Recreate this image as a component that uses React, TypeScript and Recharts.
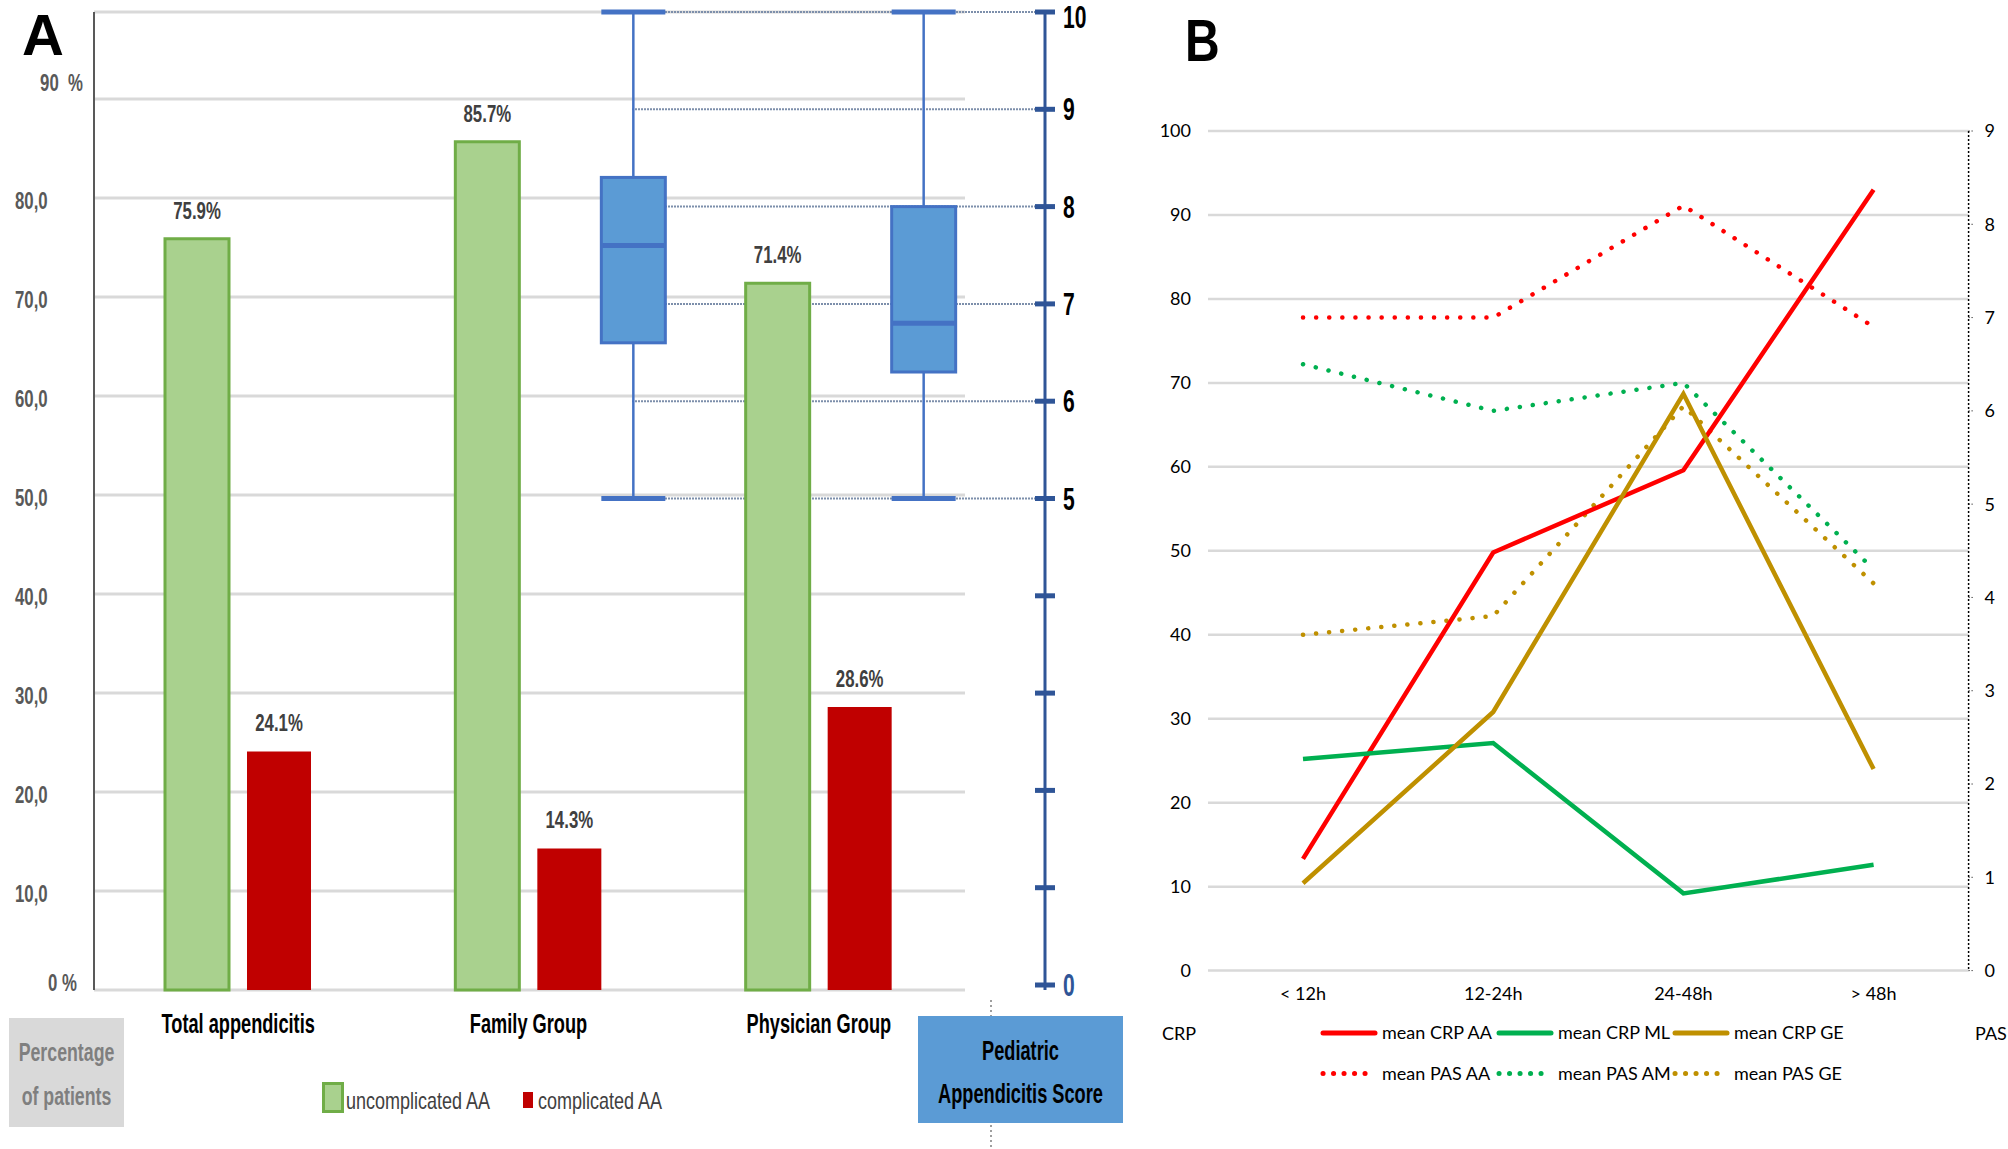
import React from "react";
import {
  ComposedChart,
  LineChart,
  Bar,
  Line,
  XAxis,
  YAxis,
  CartesianGrid,
  LabelList,
  Legend,
} from "recharts";

// ---- Panel A: outcome by group + Pediatric Appendicitis Score box plots
const groups = ["Total appendicitis", "Family Group", "Physician Group"];
const uncomplicatedPct = [75.9, 85.7, 71.4];
const complicatedPct = [24.1, 14.3, 28.6];
const pasMin = [null, 5, 5];
const pasQ1 = [null, 6.6, 6.3];
const pasMedian = [null, 7.6, 6.8];
const pasQ3 = [null, 8.3, 8.0];
const pasMax = [null, 10, 10];
const pctTicks = [0, 10, 20, 30, 40, 50, 60, 70, 80, 90];
const pasTicks = [0, 1, 2, 3, 4, 5, 6, 7, 8, 9, 10];
const pasTickLabels = [0, 5, 6, 7, 8, 9, 10];
const pasGuideValues = [5, 6, 7, 8, 9, 10];
const barLegendOrder = ["uncomplicated AA", "complicated AA"];

// ---- Panel B: CRP and PAS by time since onset
const intervals = ["< 12h", "12-24h", "24-48h", "> 48h"];
const crpAA = [13.3, 49.8, 59.6, 93.0];
const crpML = [25.2, 27.1, 9.2, 12.6];
const crpGE = [10.4, 30.8, 68.7, 24.0];
const pasAA = [7.0, 7.0, 8.2, 6.9];
const pasAM = [6.5, 6.0, 6.3, 4.3];
const pasGE = [3.6, 3.8, 6.05, 4.15];
const crpTicks = [0, 10, 20, 30, 40, 50, 60, 70, 80, 90, 100];
const pasTicksB = [0, 1, 2, 3, 4, 5, 6, 7, 8, 9];

const FONT_A = "'Liberation Sans', Arial, sans-serif";
const FONT_B = "Lato, 'Open Sans', sans-serif";
const GREEN = "#a9d18e";
const GREEN_EDGE = "#70ad47";
const DARK_RED = "#c00000";
const BOX_FILL = "#5b9bd5";
const BOX_EDGE = "#4472c4";
const PAS_BLUE = "#2f5597";
const BAR_GAP = 18;

const RED = "#ff0000";
const LGREEN = "#00b050";
const GOLD = "#bf9000";

const crpSeries = [
  { key: "crpAA", name: "mean CRP AA", color: RED, values: crpAA },
  { key: "crpML", name: "mean CRP ML", color: LGREEN, values: crpML },
  { key: "crpGE", name: "mean CRP GE", color: GOLD, values: crpGE },
];
const pasSeries = [
  { key: "pasAA", name: "mean PAS AA", color: RED, values: pasAA },
  { key: "pasAM", name: "mean PAS AM", color: LGREEN, values: pasAM },
  { key: "pasGE", name: "mean PAS GE", color: GOLD, values: pasGE },
];
const lineLegendOrder = [...crpSeries, ...pasSeries].map((s) => s.name);

const groupRows = groups.map((g, i) => ({
  group: g,
  uncomplicated: uncomplicatedPct[i],
  complicated: complicatedPct[i],
  box: pasQ1[i] == null ? null : [pasQ1[i], pasQ3[i]],
  min: pasMin[i],
  q1: pasQ1[i],
  median: pasMedian[i],
  q3: pasQ3[i],
  max: pasMax[i],
}));

const timeRows = intervals.map((t, i) => {
  const row: any = { interval: t };
  [...crpSeries, ...pasSeries].forEach((s) => (row[s.key] = s.values[i]));
  return row;
});

// condensed text, like the squeezed labels of the original figure
function Squeezed({ x, y, sx = 0.7, anchor = "middle", size = 24, weight = 700, fill = "#000", family = FONT_A, children }: any) {
  return (
    <text
      transform={`translate(${x},${y}) scale(${sx},1)`}
      textAnchor={anchor}
      fontSize={size}
      fontWeight={weight}
      fill={fill}
      fontFamily={family}
    >
      {children}
    </text>
  );
}

const PctTick = ({ x, y, payload }: any) => {
  const v = payload.value;
  if (v === 90)
    return <Squeezed x={x - 11} y={y - 8} anchor="end" fill="#595959">{"90\u00a0\u00a0%"}</Squeezed>;
  if (v === 0)
    return <Squeezed x={x - 17} y={y + 1} anchor="end" fill="#595959">0 %</Squeezed>;
  return (
    <Squeezed x={x - 79} y={y + 11} anchor="start" fill="#595959">
      {v.toFixed(1).replace(".", ",")}
    </Squeezed>
  );
};

const PasTick = ({ x, y, payload }: any) => {
  const v = payload.value;
  return (
    <g>
      <line x1={x - 10} x2={x + 10} y1={y} y2={y} stroke={PAS_BLUE} strokeWidth={5} />
      {pasTickLabels.includes(v) && (
        <Squeezed
          x={x + 18}
          y={y + (v === 10 ? 16 : 11)}
          anchor="start"
          size={31}
          sx={0.68}
          fill={v === 0 ? PAS_BLUE : "#000"}
        >
          {v}
        </Squeezed>
      )}
    </g>
  );
};

const GroupTick = ({ x, y, payload }: any) => (
  <Squeezed x={x - 41} y={y + 43} size={28} sx={0.65}>
    {payload.value}
  </Squeezed>
);

const pctLabel = (p: any) => {
  const vb = p.viewBox ?? p;
  const x = (p.x ?? vb.x) + (p.width ?? vb.width) / 2;
  const y = p.y ?? vb.y;
  return (
    <Squeezed x={x} y={y - 20} fill="#404040">
      {`${Number(p.value).toFixed(1)}%`}
    </Squeezed>
  );
};

const BoxShape = (props: any) => {
  const { x, y, width, height, payload } = props;
  if (!payload || payload.q1 == null || !(height > 0)) return null;
  const perUnit = height / (payload.q3 - payload.q1);
  const at = (v: number) => y + (payload.q3 - v) * perUnit;
  const left = x - BAR_GAP; // the box sits flush against the complicated bar
  const cx = left + width / 2;
  return (
    <g>
      <line x1={cx} x2={cx} y1={at(payload.max)} y2={y} stroke={BOX_EDGE} strokeWidth={2.5} />
      <line x1={cx} x2={cx} y1={y + height} y2={at(payload.min)} stroke={BOX_EDGE} strokeWidth={2.5} />
      <line x1={left} x2={left + width} y1={at(payload.max)} y2={at(payload.max)} stroke={BOX_EDGE} strokeWidth={5} />
      <line x1={left} x2={left + width} y1={at(payload.min)} y2={at(payload.min)} stroke={BOX_EDGE} strokeWidth={5} />
      <rect x={left} y={y} width={width} height={height} fill={BOX_FILL} stroke={BOX_EDGE} strokeWidth={3} />
      <line x1={left} x2={left + width} y1={at(payload.median)} y2={at(payload.median)} stroke={BOX_EDGE} strokeWidth={5} />
    </g>
  );
};

const BarLegend = ({ payload }: any) => {
  const items = (payload ?? [])
    .filter((e: any) => barLegendOrder.includes(e.value))
    .sort((a: any, b: any) => barLegendOrder.indexOf(a.value) - barLegendOrder.indexOf(b.value));
  return (
    <svg width={360} height={40} style={{ display: "block" }}>
      {items.map((e: any, i: number) => {
        const left = i * 201;
        return (
          <g key={e.value}>
            {i === 0 ? (
              <rect x={left + 5.5} y={5.5} width={19} height={28} fill={e.color} stroke={GREEN_EDGE} strokeWidth={3} />
            ) : (
              <rect x={left + 4} y={14} width={10} height={16} fill={e.color} />
            )}
            <Squeezed x={left + (i === 0 ? 28 : 19)} y={30.5} anchor="start" weight={400} sx={0.75} fill="#404040">
              {e.value}
            </Squeezed>
          </g>
        );
      })}
    </svg>
  );
};

const LineLegend = ({ payload }: any) => {
  const items = (payload ?? [])
    .filter((e: any) => lineLegendOrder.includes(e.value))
    .sort((a: any, b: any) => lineLegendOrder.indexOf(a.value) - lineLegendOrder.indexOf(b.value));
  return (
    <svg width={540} height={80} style={{ display: "block" }}>
      {items.map((e: any, i: number) => {
        const lx = (i % 3) * 176;
        const ly = 20 + Math.floor(i / 3) * 40.5;
        const dotted = i >= 3;
        return (
          <g key={e.value}>
            <line
              x1={lx + 3}
              x2={lx + 55}
              y1={ly}
              y2={ly}
              stroke={e.color}
              strokeWidth={5}
              strokeLinecap="round"
              strokeDasharray={dotted ? "0.1 10.4" : undefined}
            />
            <text x={lx + 62} y={ly + 6} fontSize={18} fontFamily={FONT_B} fill="#000">
              {e.value}
            </text>
          </g>
        );
      })}
    </svg>
  );
};

function PanelA() {
  return (
    <ComposedChart
      width={1130}
      height={1149}
      data={groupRows}
      margin={{ top: 12, right: 0, bottom: 0, left: 0 }}
      barGap={BAR_GAP}
    >
      <CartesianGrid yAxisId="pct" vertical={false} x={94} width={871} stroke="#d9d9d9" strokeWidth={3} />
      <CartesianGrid
        yAxisId="pas"
        vertical={false}
        x={632}
        width={413}
        horizontalValues={pasGuideValues}
        stroke="#7d8fab"
        strokeDasharray="2 1"
        strokeWidth={2}
      />
      <XAxis
        dataKey="group"
        height={159}
        padding={{ left: 40, right: 40 }}
        axisLine={false}
        tickLine={false}
        tickSize={0}
        tickMargin={0}
        interval={0}
        tick={<GroupTick />}
      />
      <YAxis
        yAxisId="pct"
        width={94}
        domain={[0, 98.8]}
        ticks={pctTicks}
        interval={0}
        axisLine={{ stroke: "#595959", strokeWidth: 2 }}
        tickLine={false}
        tickSize={0}
        tickMargin={0}
        tick={<PctTick />}
      />
      <YAxis
        yAxisId="pas"
        orientation="right"
        width={85}
        domain={[0, 10]}
        ticks={pasTicks}
        interval={0}
        padding={{ top: 0, bottom: 5 }}
        axisLine={{ stroke: PAS_BLUE, strokeWidth: 3 }}
        tickLine={false}
        tickSize={0}
        tickMargin={0}
        tick={<PasTick />}
      />
      <Legend
        layout="horizontal"
        verticalAlign="middle"
        align="center"
        wrapperStyle={{ left: 318, top: 1078, width: 360, height: 40 }}
        content={<BarLegend />}
      />
      <Bar
        yAxisId="pct"
        dataKey="uncomplicated"
        name="uncomplicated AA"
        barSize={64}
        fill={GREEN}
        stroke={GREEN_EDGE}
        strokeWidth={3}
        isAnimationActive={false}
      >
        <LabelList dataKey="uncomplicated" content={pctLabel} />
      </Bar>
      <Bar
        yAxisId="pct"
        dataKey="complicated"
        name="complicated AA"
        barSize={64}
        fill={DARK_RED}
        isAnimationActive={false}
      >
        <LabelList dataKey="complicated" content={pctLabel} />
      </Bar>
      <Bar
        yAxisId="pas"
        dataKey="box"
        name="PAS"
        barSize={64}
        fill={BOX_FILL}
        legendType="none"
        shape={(p: any) => <BoxShape {...p} />}
        isAnimationActive={false}
      />
    </ComposedChart>
  );
}

function PanelB() {
  return (
    <LineChart width={878} height={1149} data={timeRows} margin={{ top: 131, right: 0, bottom: 0, left: 0 }}>
      <CartesianGrid yAxisId="crp" vertical={false} stroke="#d9d9d9" strokeWidth={2.5} />
      <XAxis
        dataKey="interval"
        height={178.4}
        padding={{ left: 95, right: 95 }}
        axisLine={false}
        tickLine={false}
        tickSize={0}
        tickMargin={17}
        interval={0}
        tick={{ fontSize: 18, fill: "#000", fontFamily: FONT_B }}
      />
      <YAxis
        yAxisId="crp"
        width={78}
        domain={[0, 100]}
        ticks={crpTicks}
        interval={0}
        axisLine={false}
        tickLine={false}
        tickSize={0}
        tickMargin={17}
        tick={{ fontSize: 18, fill: "#000", fontFamily: FONT_B }}
      />
      <YAxis
        yAxisId="pas"
        orientation="right"
        width={39.4}
        domain={[0, 9]}
        ticks={pasTicksB}
        interval={0}
        axisLine={{ stroke: "#000", strokeDasharray: "2 2", strokeWidth: 1.5 }}
        tickLine={{ stroke: "#000", strokeDasharray: "1 2" }}
        tickSize={4}
        tickMargin={12}
        tick={{ fontSize: 18, fill: "#000", fontFamily: FONT_B, textAnchor: "start" }}
      />
      <Legend
        layout="horizontal"
        verticalAlign="middle"
        align="center"
        wrapperStyle={{ left: 190, top: 1013, width: 540, height: 80 }}
        content={<LineLegend />}
      />
      {pasSeries.map((s) => (
        <Line
          key={s.key}
          yAxisId="pas"
          type="linear"
          dataKey={s.key}
          name={s.name}
          stroke={s.color}
          strokeWidth={4.5}
          strokeDasharray="0.1 13"
          strokeLinecap="round"
          dot={false}
          isAnimationActive={false}
        />
      ))}
      {crpSeries.map((s) => (
        <Line
          key={s.key}
          yAxisId="crp"
          type="linear"
          dataKey={s.key}
          name={s.name}
          stroke={s.color}
          strokeWidth={4.5}
          dot={false}
          isAnimationActive={false}
        />
      ))}
    </LineChart>
  );
}

export default function App() {
  return (
    <div
      style={{
        position: "absolute",
        left: 0,
        top: 0,
        width: 2008,
        height: 1149,
        background: "#fff",
        overflow: "hidden",
        fontFamily: FONT_A,
      }}
    >
      <div style={{ position: "absolute", left: 0, top: 0 }}>
        <PanelA />
      </div>
      <div style={{ position: "absolute", left: 1130, top: 0 }}>
        <PanelB />
      </div>
      <svg
        width={2008}
        height={1149}
        style={{ position: "absolute", left: 0, top: 0, pointerEvents: "none" }}
      >
        <text x={22} y={55} fontSize={58} fontWeight={700} fontFamily={FONT_A} fill="#000">
          A
        </text>
        <Squeezed x={1185} y={61} size={60} sx={0.8} anchor="start">
          B
        </Squeezed>
        {/* y-axis title of panel A */}
        <rect x={9} y={1018} width={115} height={109} fill="#d9d9d9" />
        <Squeezed x={66.5} y={1061} size={25} sx={0.71} fill="#7f7f7f">
          Percentage
        </Squeezed>
        <Squeezed x={66.5} y={1105} size={25} sx={0.71} fill="#7f7f7f">
          of patients
        </Squeezed>
        {/* secondary axis title of panel A */}
        <line x1={991} x2={991} y1={1000} y2={1149} stroke="#7f7f7f" strokeWidth={1.5} strokeDasharray="2 3" />
        <rect x={918} y={1016} width={205} height={107} fill={BOX_FILL} />
        <Squeezed x={1020.5} y={1060} size={28} sx={0.65}>
          Pediatric
        </Squeezed>
        <Squeezed x={1020.5} y={1103} size={28} sx={0.65}>
          Appendicitis Score
        </Squeezed>
        {/* axis titles of panel B */}
        <text x={1162} y={1040} fontSize={18} fontFamily={FONT_B} fill="#000">
          CRP
        </text>
        <text x={1975} y={1040} fontSize={18} fontFamily={FONT_B} fill="#000">
          PAS
        </text>
      </svg>
    </div>
  );
}
